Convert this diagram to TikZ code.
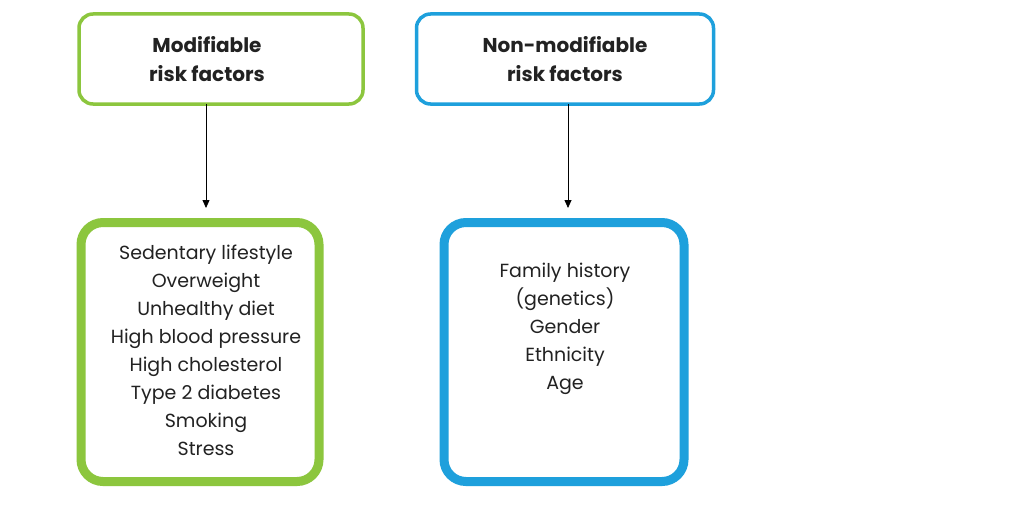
\documentclass[tikz,border=0pt]{standalone}
\usepackage{fontspec}
\setmainfont{Poppins}
\usetikzlibrary{arrows.meta}
\definecolor{grn}{HTML}{8CC63E}
\definecolor{blu}{HTML}{1EA0DC}
\definecolor{txt}{HTML}{222222}
\begin{document}
\begin{tikzpicture}[x=1pt,y=-1pt,
  topbox/.style={draw, line width=3.5pt, rounded corners=14pt, fill=white, inner sep=0pt},
  toptext/.style={align=center, font=\fontsize{20}{29}\selectfont\bfseries, text=txt, inner sep=0pt},
  listbox/.style={draw, line width=9pt, rounded corners=22pt, fill=white, inner sep=0pt},
  listtext/.style={font=\fontsize{19}{28}\selectfont, text=txt, align=center, anchor=north},
  conn/.style={-{Triangle[length=8pt,width=7pt]}, line width=0.8pt, black}]
\useasboundingbox (0,0) rectangle (1032,511);
\fill[white] (0,0) rectangle (1032,511);
\node[topbox, draw=grn, minimum width=284pt, minimum height=90pt] (mt) at (221,59) {};
\node[topbox, draw=blu, minimum width=297pt, minimum height=90pt] (nt) at (565,59) {};
\node[toptext] (mtt) at (207,59) {Modifiable\\risk factors};
\node[toptext] (ntt) at (565,59) {Non-modifiable\\risk factors};
\node[listbox, draw=grn, minimum width=238pt, minimum height=259pt] (ml) at (200,352) {};
\node[listbox, draw=blu, minimum width=240pt, minimum height=259pt] (nl) at (564,352) {};
\node[listtext] (mtext) at (206,241) {Sedentary lifestyle\\Overweight\\Unhealthy diet\\High blood pressure\\High cholesterol\\Type 2 diabetes\\Smoking\\Stress};
\node[listtext] (ntext) at (565,260) {Family history\\(genetics)\\Gender\\Ethnicity\\Age};
\coordinate (a1) at (206,104);
\coordinate (a2) at (568,104);
\coordinate (b1) at (206,208);
\coordinate (b2) at (568,208);
\draw[conn] (a1) -- (b1);
\draw[conn] (a2) -- (b2);
\end{tikzpicture}
\end{document}
